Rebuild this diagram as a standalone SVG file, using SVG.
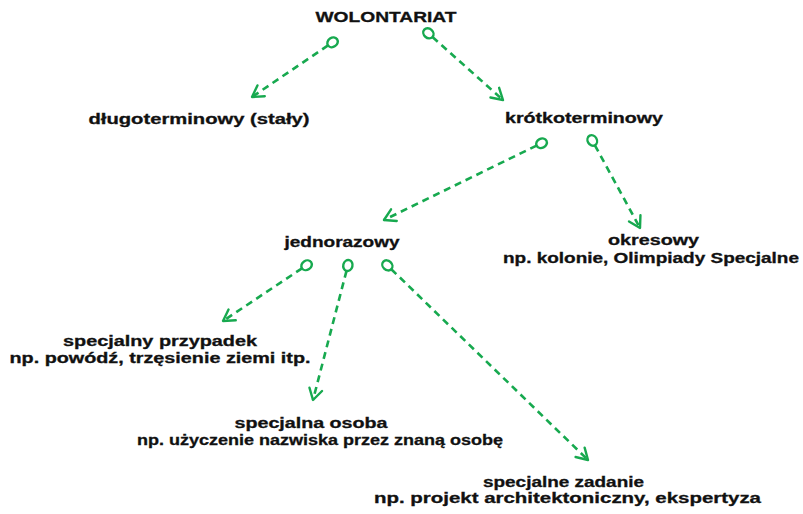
<svg xmlns="http://www.w3.org/2000/svg" width="803" height="514" viewBox="0 0 803 514">
<style>
text{font-family:"Liberation Sans",Arial,sans-serif;font-weight:bold;font-size:14.5px;fill:#111;stroke:#111;stroke-width:0.3;text-anchor:middle}
.c{fill:none;stroke:#17a94f;stroke-width:2.6;stroke-dasharray:7 5}
</style>
<defs>
<marker id="s" markerUnits="userSpaceOnUse" viewBox="-12 -12 24 24" markerWidth="24" markerHeight="24" refX="5.5" refY="0" orient="auto" overflow="visible">
<ellipse cx="0" cy="0" rx="5.5" ry="4.6" fill="none" stroke="#17a94f" stroke-width="2.4"/>
</marker>
<marker id="e" markerUnits="userSpaceOnUse" viewBox="-14 -12 28 24" markerWidth="28" markerHeight="24" refX="0" refY="0" orient="auto" overflow="visible">
<path d="M-11,-6.5 L0,0 L-11,6.5" fill="none" stroke="#17a94f" stroke-width="2.4" stroke-dasharray="none" stroke-linecap="round" stroke-linejoin="round"/>
</marker>
</defs>
<rect width="803" height="514" fill="#fff"/>
<g id="connectors">
<path class="c" d="M328,45.4 L252,97" marker-start="url(#s)" marker-end="url(#e)"/>
<path class="c" d="M432.5,37 L503,100" marker-start="url(#s)" marker-end="url(#e)"/>
<path class="c" d="M536.6,145.6 L384,220" marker-start="url(#s)" marker-end="url(#e)"/>
<path class="c" d="M594.9,145.3 L640,228" marker-start="url(#s)" marker-end="url(#e)"/>
<path class="c" d="M302,268.3 L223,321" marker-start="url(#s)" marker-end="url(#e)"/>
<path class="c" d="M346.5,270.8 L313,400" marker-start="url(#s)" marker-end="url(#e)"/>
<path class="c" d="M391.3,269.2 L588,460" marker-start="url(#s)" marker-end="url(#e)"/>
</g>
<g id="wolontariat"><text x="386" y="22" textLength="141" lengthAdjust="spacingAndGlyphs">WOLONTARIAT</text></g>
<g id="dlugoterminowy"><text x="199" y="124" textLength="221" lengthAdjust="spacingAndGlyphs">długoterminowy (stały)</text></g>
<g id="krotkoterminowy"><text x="584" y="123" textLength="158" lengthAdjust="spacingAndGlyphs">krótkoterminowy</text></g>
<g id="jednorazowy"><text x="342" y="247" textLength="115" lengthAdjust="spacingAndGlyphs">jednorazowy</text></g>
<g id="okresowy">
<text x="653.5" y="245" textLength="91" lengthAdjust="spacingAndGlyphs">okresowy</text>
<text x="651" y="263" textLength="296" lengthAdjust="spacingAndGlyphs">np. kolonie, Olimpiady Specjalne</text>
</g>
<g id="przypadek">
<text x="160" y="346" textLength="194" lengthAdjust="spacingAndGlyphs">specjalny przypadek</text>
<text x="160" y="363" textLength="301" lengthAdjust="spacingAndGlyphs">np. powódź, trzęsienie ziemi itp.</text>
</g>
<g id="osoba">
<text x="311" y="428" textLength="153" lengthAdjust="spacingAndGlyphs">specjalna osoba</text>
<text x="320" y="445" textLength="366" lengthAdjust="spacingAndGlyphs">np. użyczenie nazwiska przez znaną osobę</text>
</g>
<g id="zadanie">
<text x="563.5" y="487" textLength="161" lengthAdjust="spacingAndGlyphs">specjalne zadanie</text>
<text x="567.5" y="503" textLength="387" lengthAdjust="spacingAndGlyphs">np. projekt architektoniczny, ekspertyza</text>
</g>
</svg>
